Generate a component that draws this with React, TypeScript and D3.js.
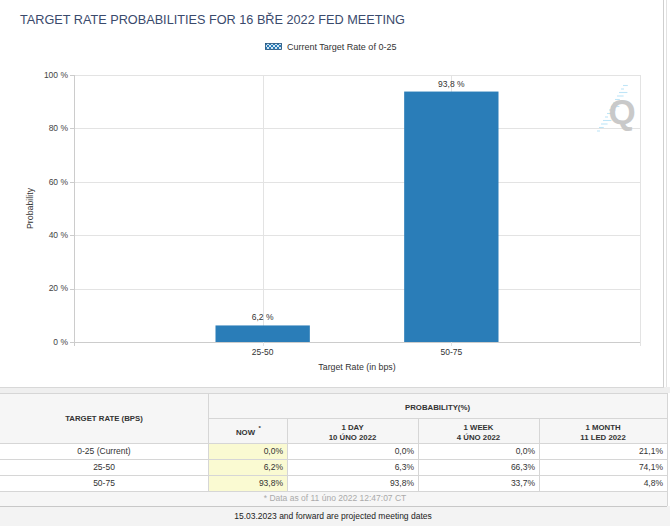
import React from "react";
import * as d3 from "d3";

const title = "TARGET RATE PROBABILITIES FOR 16 BŘE 2022 FED MEETING";
const legendLabel = "Current Target Rate of 0-25";
const chartCategories = ["25-50", "50-75"];
const chartValues = [6.2, 93.8];
const yTicks = [0, 20, 40, 60, 80, 100];

const tableRates = ["0-25 (Current)", "25-50", "50-75"];
const nowVals = [0.0, 6.2, 93.8];
const dayVals = [0.0, 6.3, 93.8];
const weekVals = [0.0, 66.3, 33.7];
const monthVals = [21.1, 74.1, 4.8];
const colHeaders = [["NOW"], ["1 DAY", "10 ÚNO 2022"], ["1 WEEK", "4 ÚNO 2022"], ["1 MONTH", "11 LED 2022"]];
const footNote = "* Data as of 11 úno 2022 12:47:07 CT";
const bottomNote = "15.03.2023 and forward are projected meeting dates";

const FONT = "'Liberation Sans', Arial, sans-serif";
const BAR = "#2a7db8";

const fmt = (v: number) => v.toFixed(1).replace(".", ",");

export default function App() {
  const W = 670, H = 526;
  const plot = { left: 74, right: 640, top: 75, bottom: 342 };
  const x = d3.scaleLinear().domain([0, chartCategories.length + 1]).range([plot.left, plot.right]);
  const y = d3.scaleLinear().domain([0, 100]).range([plot.bottom, plot.top]);
  const step = x(1) - x(0);
  const barW = step * 0.5;
  const xTicks = d3.range(0, chartCategories.length + 2);

  const colEdges = [0, 208, 287, 418, 539, 667];
  const rowEdges = [393, 418, 443, 459, 475, 491, 506];
  const cols = [nowVals, dayVals, weekVals, monthVals];

  const dashes = d3.range(14);

  return (
    <div style={{ position: "absolute", left: 0, top: 0, width: W, height: H }}>
      <svg width={W} height={H} style={{ display: "block", fontFamily: FONT }}>
        <defs>
          <pattern id="hatch" width="4" height="4" patternUnits="userSpaceOnUse">
            <rect width="4" height="4" fill={BAR} />
            <path d="M0,0 L4,4 M4,0 L0,4" stroke="#ffffff" strokeWidth="0.8" />
          </pattern>
        </defs>
        <rect x={0} y={0} width={W} height={H} fill="#ffffff" />
        <line x1={663.5} x2={663.5} y1={0} y2={387} stroke="#cfcfcf" />
        <line x1={666.5} x2={666.5} y1={0} y2={393} stroke="#e2e2e2" />
        <rect x={0} y={387} width={W} height={6} fill="#efefef" />
        <line x1={0} x2={664} y1={387.5} y2={387.5} stroke="#d8d8d8" />

        <text x={20} y={24} fontSize={12.7} fill="#3a4a6c">{title}</text>

        <rect x={265.5} y={43.5} width={16} height={6} fill="url(#hatch)" stroke="#1e4e78" strokeWidth={0.8} />
        <text x={287} y={49.5} fontSize={9} fill="#333">{legendLabel}</text>

        {yTicks.map((t) => (
          <g key={"y" + t}>
            <line x1={plot.left} x2={plot.right} y1={Math.round(y(t)) + 0.5} y2={Math.round(y(t)) + 0.5}
              stroke={t === 0 ? "#cccccc" : "#e3e3e3"} />
            <line x1={plot.left - 4} x2={plot.left} y1={Math.round(y(t)) + 0.5} y2={Math.round(y(t)) + 0.5} stroke="#cccccc" />
            <text x={plot.left - 6} y={y(t)} dy="0.33em" textAnchor="end" fontSize={8.5} fill="#444">{t + " %"}</text>
          </g>
        ))}
        {xTicks.map((t) => (
          <line key={"x" + t} x1={Math.round(x(t)) + 0.5} x2={Math.round(x(t)) + 0.5} y1={plot.top} y2={plot.bottom + 4}
            stroke={t === 0 ? "#cccccc" : "#e3e3e3"} />
        ))}

        <g>
          {dashes.map((i) => (
            <line key={"d" + i} x1={597 + i * 2} x2={597 + i * 2 + 3 + (i % 4) * 1.8} y1={131 - i * 3.5} y2={131 - i * 3.5}
              stroke="#bfe5f7" strokeWidth={1.1} />
          ))}
          <text x={622} y={124} textAnchor="middle" fontSize={35} fontWeight="bold" fill="#c9c9c9">Q</text>
        </g>

        {chartValues.map((v, i) => (
          <g key={"b" + i}>
            <rect x={x(i + 1) - barW / 2} y={y(v)} width={barW} height={y(0) - y(v)} fill={BAR} />
            <text x={x(i + 1)} y={y(v) - 5} textAnchor="middle" fontSize={8.5} fill="#333">{fmt(v) + " %"}</text>
            <text x={x(i + 1)} y={plot.bottom + 13} textAnchor="middle" fontSize={8.5} fill="#333">{chartCategories[i]}</text>
          </g>
        ))}

        <text x={(plot.left + plot.right) / 2} y={370} textAnchor="middle" fontSize={8.8} fill="#333">Target Rate (in bps)</text>
        <text transform={`translate(33,${(plot.top + plot.bottom) / 2}) rotate(-90)`} textAnchor="middle" fontSize={8.8} fill="#333">Probability</text>

        <rect x={0} y={rowEdges[0]} width={colEdges[5]} height={rowEdges[2] - rowEdges[0]} fill="#f6f6f6" />
        {tableRates.map((r, i) => (
          <g key={"r" + i}>
            <rect x={0} y={rowEdges[i + 2]} width={colEdges[5]} height={rowEdges[i + 3] - rowEdges[i + 2]} fill="#ffffff" />
            <rect x={colEdges[1]} y={rowEdges[i + 2]} width={colEdges[2] - colEdges[1]} height={rowEdges[i + 3] - rowEdges[i + 2]} fill="#fafad2" />
          </g>
        ))}
        <rect x={0} y={rowEdges[5]} width={colEdges[5]} height={rowEdges[6] - rowEdges[5]} fill="#f6f6f6" />
        <rect x={0} y={rowEdges[6]} width={W} height={H - rowEdges[6]} fill="#f3f3f3" />

        {rowEdges.map((ry, i) => (
          <line key={"h" + i}
            x1={i === 1 ? colEdges[1] : 0} x2={colEdges[5]} y1={ry + 0.5} y2={ry + 0.5}
            stroke={i === 6 ? "#c8c8c8" : "#d6d6d6"} />
        ))}
        {colEdges.map((cx, i) => {
          let y1 = rowEdges[0], y2 = rowEdges[5];
          if (i >= 2 && i <= 4) y1 = rowEdges[1];
          if (i === 5) y2 = rowEdges[6];
          if (i === 0) return null;
          return <line key={"v" + i} x1={cx + 0.5} x2={cx + 0.5} y1={y1} y2={y2} stroke="#d6d6d6" />;
        })}

        <text x={(colEdges[0] + colEdges[1]) / 2} y={421} textAnchor="middle" fontSize={7.8} fontWeight="bold" fill="#333">TARGET RATE (BPS)</text>
        <text x={(colEdges[1] + colEdges[5]) / 2} y={409.5} textAnchor="middle" fontSize={7.8} fontWeight="bold" fill="#333">PROBABILITY(%)</text>
        {colHeaders.map((h, i) => {
          const cx = (colEdges[i + 1] + colEdges[i + 2]) / 2;
          if (h.length === 1) {
            return (
              <g key={"ch" + i}>
                <text x={cx - 2} y={434.5} textAnchor="middle" fontSize={7.8} fontWeight="bold" fill="#333">{h[0]}</text>
                <text x={cx + 11} y={430} fontSize={6} fontWeight="bold" fill="#333">*</text>
              </g>
            );
          }
          return (
            <g key={"ch" + i}>
              <text x={cx} y={429.5} textAnchor="middle" fontSize={7.8} fontWeight="bold" fill="#333">{h[0]}</text>
              <text x={cx} y={439.5} textAnchor="middle" fontSize={7.8} fontWeight="bold" fill="#333">{h[1]}</text>
            </g>
          );
        })}

        {tableRates.map((r, i) => {
          const cy = (rowEdges[i + 2] + rowEdges[i + 3]) / 2;
          return (
            <g key={"t" + i}>
              <text x={(colEdges[0] + colEdges[1]) / 2} y={cy} dy="0.35em" textAnchor="middle" fontSize={8.5} fill="#333">{r}</text>
              {cols.map((c, j) => (
                <text key={j} x={colEdges[j + 2] - 4} y={cy} dy="0.35em" textAnchor="end" fontSize={8.5} fill="#333">{fmt(c[i]) + "%"}</text>
              ))}
            </g>
          );
        })}
        <text x={335} y={(rowEdges[5] + rowEdges[6]) / 2} dy="0.35em" textAnchor="middle" fontSize={8.5} fill="#aaaaaa">{footNote}</text>
        <text x={333} y={519} textAnchor="middle" fontSize={8.5} fill="#222">{bottomNote}</text>
      </svg>
    </div>
  );
}
